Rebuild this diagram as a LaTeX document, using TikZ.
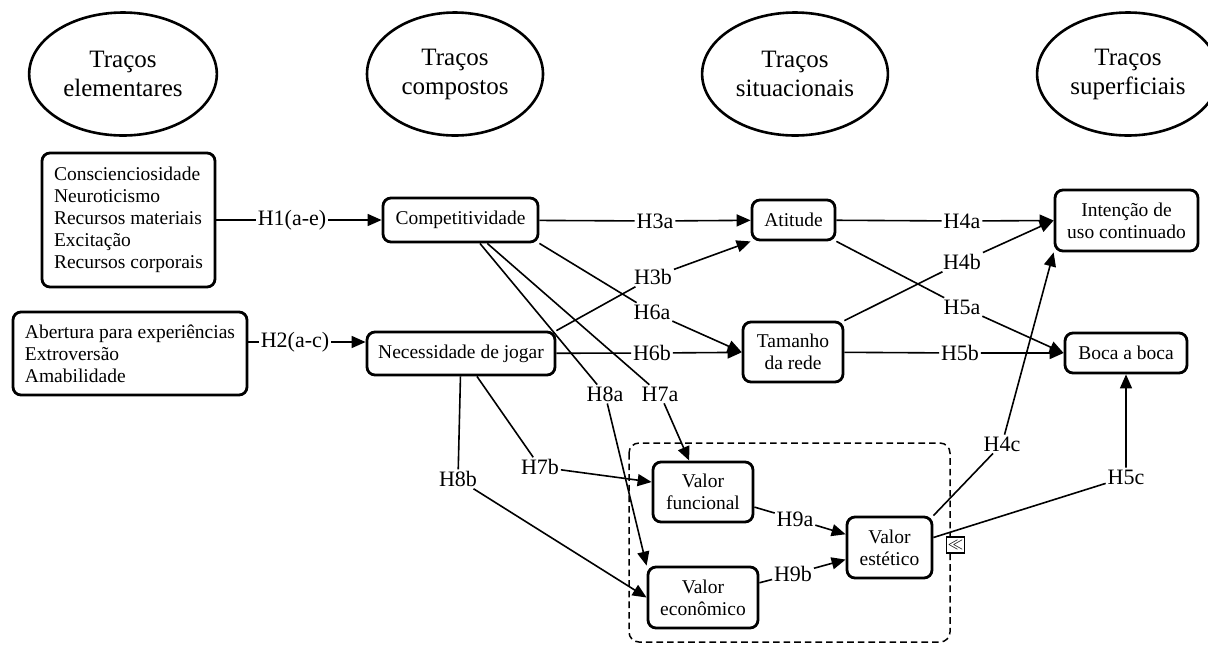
\documentclass[tikz,border=0pt]{standalone}
\usepackage{fontspec}
\setmainfont{Liberation Serif}
\usepackage{tikz}
\usetikzlibrary{shapes.geometric, arrows.meta}

\tikzset{
  trait/.style={ellipse, draw, line width=1.3pt, minimum width=88pt, minimum height=61.5pt,
    align=center, font=\fontsize{12.5}{14.5}\selectfont},
  construct/.style={draw, rounded corners=4pt, line width=1.4pt, align=center, inner sep=0pt,
    font=\fontsize{9.75}{11}\selectfont},
  hyp/.style={inner sep=0.8pt, font=\fontsize{11}{11}\selectfont},
  link/.style={-{Triangle[length=7pt,width=6pt]}, line width=0.8pt},
  group/.style={rounded corners=5pt, line width=0.75pt, dash pattern=on 3.3pt off 2pt},
}

\begin{document}
\begin{tikzpicture}[x=0.5pt, y=-0.5pt]
  \useasboundingbox (0,0) rectangle (1208,644);
  \draw[group] (629,443) rectangle (950,642);

  \node[trait] (elem) at (123,74) {Traços\\elementares};
  \node[trait] (compos) at (455,74) {Traços\\compostos};
  \node[trait] (situ) at (795,74) {Traços\\situacionais};
  \node[trait] (super) at (1128,74) {Traços\\superficiais};

  \node[construct, align=left, minimum width=86.5pt, minimum height=67pt] (big5a) at (128.5,220)
    {Conscienciosidade\\Neuroticismo\\Recursos materiais\\Excitação\\Recursos corporais};
  \node[construct, align=left, minimum width=117pt, minimum height=41.5pt] (big5b) at (130,353.5)
    {Abertura para experiências\\Extroversão\\Amabilidade};
  \node[construct, minimum width=77.5pt, minimum height=22pt] (compet) at (460.5,220) {Competitividade};
  \node[construct, minimum width=94pt, minimum height=21.5pt] (need) at (461,353.5) {Necessidade de jogar};
  \node[construct, minimum width=41.5pt, minimum height=20pt] (atit) at (793.5,220) {Atitude};
  \node[construct, minimum width=50pt, minimum height=30pt] (rede) at (793,352) {Tamanho\\da rede};
  \node[construct, minimum width=71.5pt, minimum height=30.5pt] (intent) at (1126.5,220.5) {Intenção de\\uso continuado};
  \node[construct, minimum width=61pt, minimum height=20pt] (boca) at (1126,353) {Boca a boca};
  \node[construct, minimum width=50pt, minimum height=30pt] (func) at (703,492) {Valor\\funcional};
  \node[construct, minimum width=55pt, minimum height=30.5pt] (econ) at (703,597.5) {Valor\\econômico};
  \node[construct, minimum width=42.5pt, minimum height=30.5pt] (estet) at (889.5,547.5) {Valor\\estético};
  \node[draw, fill=white, line width=0.6pt, inner sep=0.5pt, minimum size=8pt, font=\fontsize{7}{7}\selectfont]
    (collapse) at (955.5,545) {$\ll$};

  \node[hyp] (h1) at (292,220) {H1(a-e)};
  \node[hyp] (h2) at (295,342) {H2(a-c)};
  \node[hyp] (h3a) at (655,221) {H3a};
  \node[hyp] (h3b) at (653,277) {H3b};
  \node[hyp] (h6a) at (652,312) {H6a};
  \node[hyp] (h6b) at (652,353) {H6b};
  \node[hyp] (h4a) at (962,221) {H4a};
  \node[hyp] (h4b) at (962,262) {H4b};
  \node[hyp] (h5a) at (962,307) {H5a};
  \node[hyp] (h5b) at (960,353) {H5b};
  \node[hyp] (h7a) at (660,394) {H7a};
  \node[hyp] (h8a) at (605,394) {H8a};
  \node[hyp] (h7b) at (540,467) {H7b};
  \node[hyp] (h8b) at (458,479) {H8b};
  \node[hyp] (h9a) at (795,519) {H9a};
  \node[hyp] (h9b) at (793,574) {H9b};
  \node[hyp] (h4c) at (1002,444) {H4c};
  \node[hyp] (h5c) at (1126,477) {H5c};

  \draw[link] (big5a) -- (h1) -- (compet);
  \draw[link] ([yshift=5.75pt]big5b.east) -- (h2) -- ([yshift=5.75pt]need.west);
  \draw[link] (compet) -- (h3a) -- (atit);
  \draw[link] (need.north east) -- (h3b) -- (atit.south west);
  \draw[link] (compet.south east) -- (h6a) -- (rede.west);
  \draw[link] (need) -- (h6b) -- (rede);
  \draw[link] (atit) -- (h4a) -- (intent.west);
  \draw[link] (rede.north east) -- (h4b) -- (intent.west);
  \draw[link] (atit.south east) -- (h5a) -- (boca.west);
  \draw[link] (rede) -- (h5b) -- (boca);
  \draw[link] (compet) -- (h7a) -- (func);
  \draw[link] (compet) -- (h8a) -- (econ.north west);
  \draw[link] (need) -- (h7b) -- ([yshift=5pt]func.west);
  \draw[link] (need) -- (h8b) -- (econ.west);
  \draw[link] (func) -- (h9a) -- (estet);
  \draw[link] (econ) -- (h9b) -- (estet);
  \draw[link] (estet.north east) -- (h4c) -- (intent.south west);
  \draw[link] ([yshift=5pt]estet.east) -- (h5c) -- (boca);
\end{tikzpicture}
\end{document}
